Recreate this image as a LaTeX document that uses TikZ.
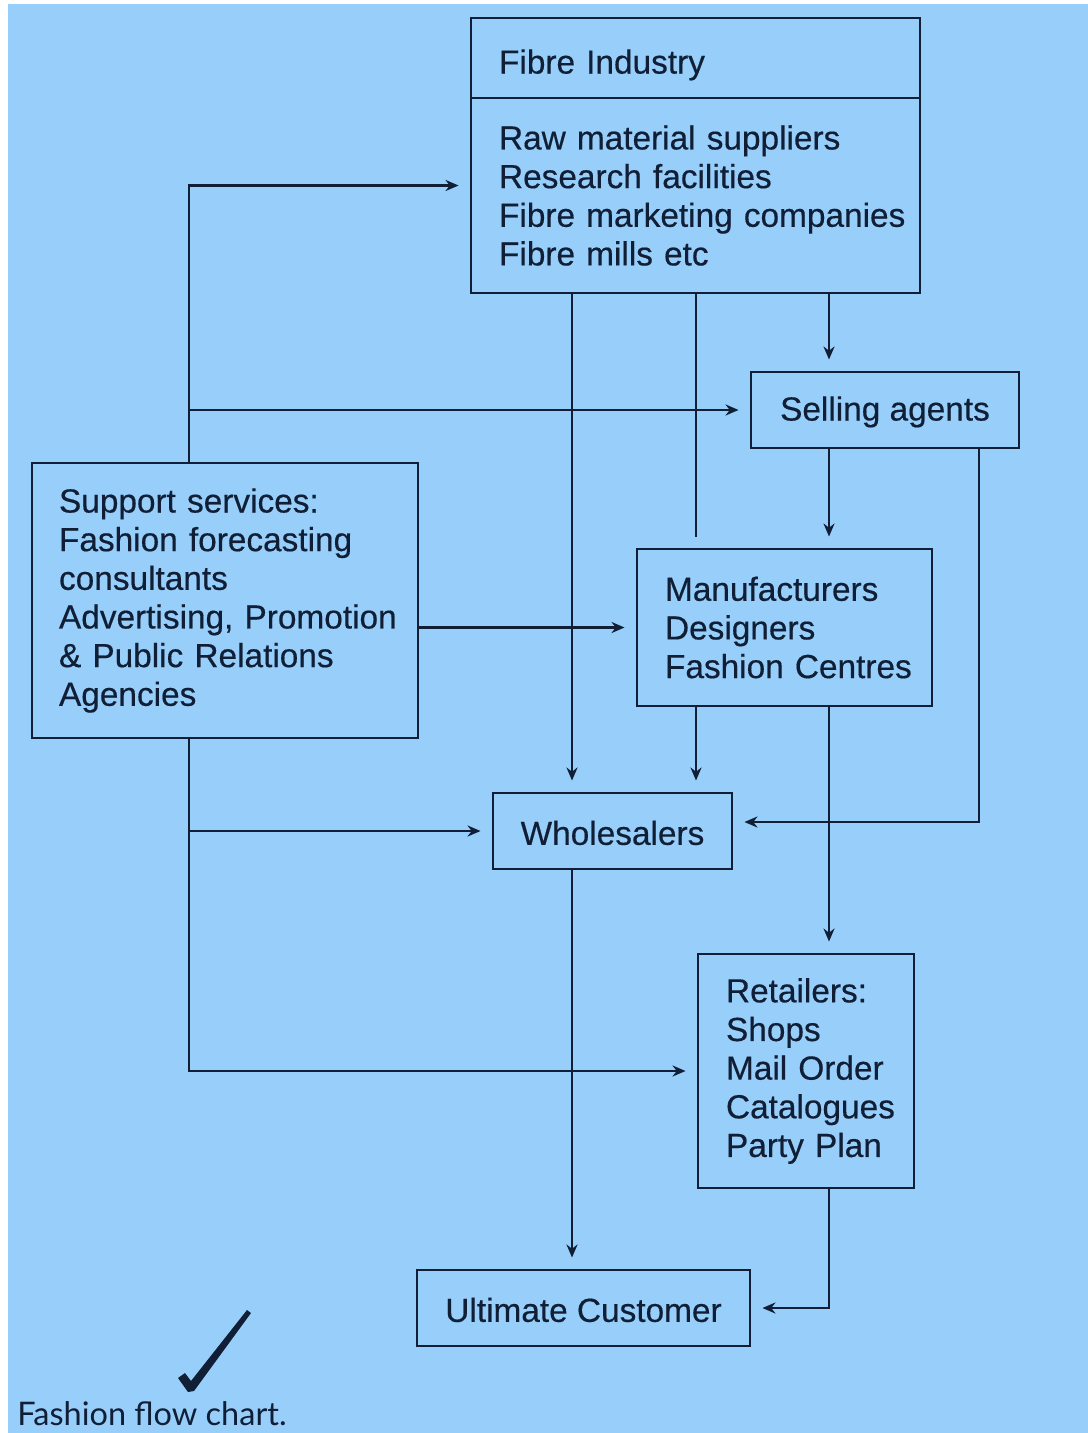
\documentclass[tikz,border=0pt]{standalone}
\usepackage{fontspec}
\setmainfont{Liberation Sans}[FakeBold=0.4]
\newfontfamily\capfont{Lato}
\usetikzlibrary{arrows.meta,positioning}
\definecolor{sky}{RGB}{151,206,250}
\definecolor{ink}{RGB}{16,30,54}
\hyphenpenalty=10000
\begin{document}
\begin{tikzpicture}[x=0.02cm, y=-0.02cm,
  box/.style={draw=ink, line width=1.5pt, outer sep=0pt, inner ysep=0pt,
    text=ink, font=\fontsize{19}{22}\selectfont},
  lbox/.style={box, inner xsep=0.56cm, align=left},
  arr/.style={draw=ink, line width=1.5pt, shorten >=0.25cm,
    -{Stealth[length=2.6mm,width=2.2mm]}}]
  \useasboundingbox (0,0) rectangle (1088,1433);
  \fill[white] (0,0) rectangle (1088,1433);
  \fill[sky] (8,4) rectangle (1088,1433);

  % boxes
  \node[lbox, minimum width=8.98cm, minimum height=3.9cm, text width=7.86cm] (fb) at (695.5,195.5)
    {Raw material suppliers\\Research facilities\\Fibre~marketing~companies\\Fibre mills etc};
  \node[lbox, above=0pt of fb, minimum width=8.98cm, minimum height=1.6cm, text width=7.86cm,
    text height=0.76cm] (fi) {Fibre Industry};
  \node[box, minimum width=5.36cm, minimum height=1.52cm, text height=0.56cm] (sa) at (885,410) {Selling agents};
  \node[lbox, inner xsep=0.54cm, minimum width=7.72cm, minimum height=5.5cm, text width=6.64cm] (ss) at (225,600.5)
    {Support services:\\Fashion~forecasting\\consultants\\Advertising,~Promotion\\\&~Public~Relations\\Agencies};
  \node[lbox, minimum width=5.9cm, minimum height=3.14cm, text width=4.78cm] (mf) at (784.5,627.5)
    {Manufacturers\\Designers\\Fashion~Centres};
  \node[box, minimum width=4.78cm, minimum height=1.52cm, text height=0.56cm] (ws) at (612.5,831) {Wholesalers};
  \node[lbox, minimum width=4.32cm, minimum height=4.68cm, text width=3.2cm] (rt) at (806,1071)
    {Retailers:\\Shops\\Mail~Order\\Catalogues\\Party~Plan};
  \node[box, minimum width=6.66cm, minimum height=1.52cm, text height=0.56cm] (uc) at (583.5,1308) {Ultimate Customer};

  % columns of the connectors
  \coordinate (c1) at (189,0);
  \coordinate (c2) at (572,0);
  \coordinate (c3) at (696,0);
  \coordinate (c4) at (829,0);
  \coordinate (c5) at (979,0);

  \foreach \c/\a/\b in {c2/fb/ws, c4/fb/sa, c4/sa/mf, c3/mf/ws, c4/mf/rt, c2/ws/uc}
    \draw[arr] (\c |- \a.south) -- (\c |- \b.north);
  \draw[arr, -] (c3 |- fb.south) -- (c3 |- mf.north);
  \draw[arr] (ss.north -| c1) |- ([yshift=0.2cm]fb.west);
  \foreach \b in {sa, ws}
    \draw[arr] (c1 |- \b.west) -- (\b.west);
  \draw[arr] (ss.south -| c1) |- (rt.west);
  \draw[arr] (ss.east |- mf.west) -- (mf.west);
  \draw[arr] (c5 |- sa.south) |- ([yshift=0.18cm]ws.east);
  \draw[arr] (c4 |- rt.south) |- (uc.east);

  % tick and caption
  \fill[ink] (178,1378) -- (185,1373) -- (191,1381) -- (247,1310) -- (251,1313)
    -- (194,1391) -- (188,1392) -- cycle;
  \node[text=ink, anchor=west, inner sep=0pt, font=\capfont\fontsize{18.5}{21}\selectfont] (cap) at (17,1414)
    {Fashion flow chart.};
\end{tikzpicture}
\end{document}
